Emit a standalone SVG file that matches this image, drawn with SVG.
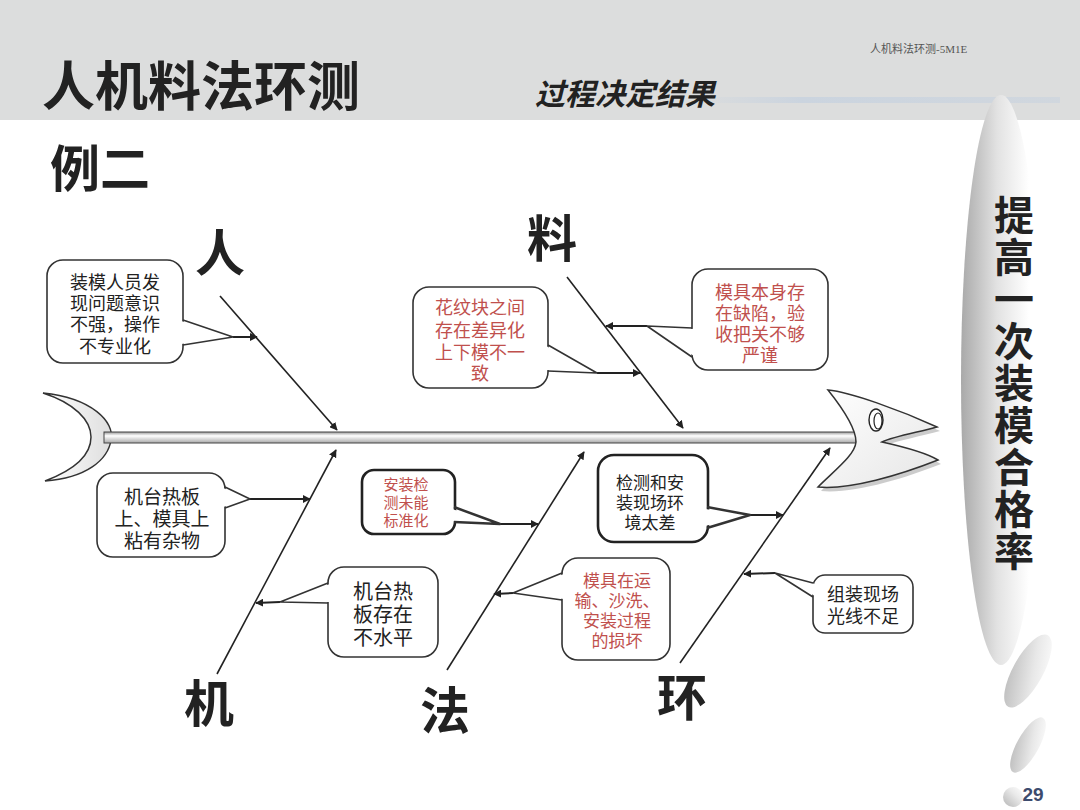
<svg xmlns="http://www.w3.org/2000/svg" width="1080" height="810" viewBox="0 0 1080 810">
<defs>
<style>
.cjk{font-family:"Noto Sans CJK SC","Noto Sans",sans-serif}
.ct{font-family:"Liberation Sans","Noto Sans CJK SC",sans-serif}
.big{font-size:50px;font-weight:bold;fill:#222;text-anchor:middle}
.box{fill:#fff;stroke:#333;stroke-width:1.6}
.boxb{fill:#fff;stroke:#222;stroke-width:2.6}
.wedge{fill:#fff;stroke:none}
.wl{fill:none;stroke:#333;stroke-width:1.6;stroke-linejoin:round}
.bone{stroke:#222;stroke-width:1.6;fill:none}
.arr{stroke:#222;stroke-width:2;fill:none}
.t{font-size:18px;fill:#222;text-anchor:middle}
.r{font-size:18px;fill:#c0504d;text-anchor:middle}
</style>
<marker id="ah" viewBox="0 0 10 10" refX="9" refY="5" markerWidth="8" markerHeight="8" markerUnits="userSpaceOnUse" orient="auto">
<path d="M0,0 L10,5 L0,10 Z" fill="#222"/>
</marker>
<linearGradient id="spineG" x1="0" y1="0" x2="0" y2="1">
<stop offset="0" stop-color="#9a9a9a"/>
<stop offset="0.35" stop-color="#ffffff"/>
<stop offset="1" stop-color="#a8a8a8"/>
</linearGradient>
<linearGradient id="headG" x1="0" y1="0" x2="1" y2="1">
<stop offset="0" stop-color="#ffffff"/>
<stop offset="1" stop-color="#e6e6e6"/>
</linearGradient>
<linearGradient id="tailG" x1="0" y1="0" x2="1" y2="0">
<stop offset="0" stop-color="#ffffff"/>
<stop offset="1" stop-color="#dedede"/>
</linearGradient>
<linearGradient id="ellG" x1="0" y1="0" x2="1" y2="0">
<stop offset="0" stop-color="#a9a9a9"/>
<stop offset="0.45" stop-color="#e2e2e2"/>
<stop offset="0.85" stop-color="#ffffff"/>
</linearGradient>
<linearGradient id="smG" x1="0" y1="1" x2="1" y2="0">
<stop offset="0" stop-color="#b5b5b5"/>
<stop offset="0.6" stop-color="#e8e8e8"/>
<stop offset="1" stop-color="#ffffff"/>
</linearGradient>
<linearGradient id="blueG" x1="0" y1="0" x2="1" y2="0">
<stop offset="0" stop-color="#c9d3df" stop-opacity="0"/>
<stop offset="0.3" stop-color="#c9d3df" stop-opacity="0.9"/>
<stop offset="1" stop-color="#c9d3df" stop-opacity="0.6"/>
</linearGradient>
</defs>

<rect width="1080" height="810" fill="#ffffff"/>
<g id="header">
<rect x="0" y="0" width="1080" height="120" fill="#dcdddd"/>
<rect x="690" y="97" width="370" height="6" fill="url(#blueG)"/>
<text x="42" y="106" class="cjk" font-size="53" font-weight="bold" fill="#222">人机料法环测</text>
<text x="535" y="105" class="cjk" font-size="30" font-weight="bold" font-style="italic" fill="#222">过程决定结果</text>
<text x="870" y="53" font-family="Liberation Serif,Noto Sans CJK SC,serif" font-size="11" fill="#555">人机料法环测-5M1E</text>
</g>
<text x="50" y="187" class="cjk" font-size="50" font-weight="bold" fill="#222">例二</text>

<g id="result">
<ellipse cx="1001" cy="380" rx="40" ry="285" fill="url(#ellG)"/>
<ellipse cx="1028" cy="671" rx="15" ry="41" fill="url(#smG)" transform="rotate(29 1028 671)"/>
<ellipse cx="1028" cy="745" rx="11" ry="31" fill="url(#smG)" transform="rotate(29 1028 745)"/>
<circle cx="1013" cy="797" r="10" fill="url(#smG)"/>
<text x="1033" y="801" font-family="Liberation Sans,Arial,sans-serif" font-size="19" font-weight="bold" fill="#3d4b6e" text-anchor="middle">29</text>
<text x="1014" y="195" class="cjk" writing-mode="vertical-rl" font-size="40" font-weight="bold" fill="#222" letter-spacing="2">提高一次装模合格率</text>
</g>

<g id="fish">
<path d="M43,393 C92,398 115,422 111,440 C108,460 86,478 45,481 C74,470 91,455 91,437 C91,420 74,403 43,393 Z" fill="url(#tailG)" stroke="#333" stroke-width="1.5"/>
<rect x="104" y="432" width="752" height="11" fill="url(#spineG)" stroke="#444" stroke-width="1"/>
<path d="M831,394 C853,396 903,414 940,431 C923,436 898,440 885,446 C903,450 928,456 941,464 C903,479 853,494 821,491 C838,474 858,459 859,446 C859,432 843,409 831,394 Z" fill="#999" opacity="0.5"/>
<path d="M828,390 C850,392 900,410 937,427 C920,432 895,436 882,442 C900,446 925,452 938,460 C900,475 850,490 818,487 C835,470 855,455 856,442 C856,428 840,405 828,390 Z" fill="url(#headG)" stroke="#333" stroke-width="1.5"/>
<ellipse cx="876" cy="420" rx="7" ry="11" fill="#fff" stroke="#222" stroke-width="1.4"/>
<ellipse cx="878" cy="421" rx="4" ry="8" fill="none" stroke="#222" stroke-width="1.2"/>
</g>

<g id="connectors">
<line class="bone" x1="220" y1="296" x2="337" y2="430" marker-end="url(#ah)"/>
<line class="bone" x1="567" y1="277" x2="683" y2="428" marker-end="url(#ah)"/>
<line class="bone" x1="217" y1="674" x2="336" y2="450" marker-end="url(#ah)"/>
<line class="bone" x1="447" y1="670" x2="584" y2="452" marker-end="url(#ah)"/>
<line class="bone" x1="680" y1="663" x2="830" y2="448" marker-end="url(#ah)"/>
<line class="arr" x1="233" y1="337" x2="257" y2="337" marker-end="url(#ah)"/>
<line class="arr" x1="597" y1="373" x2="640" y2="373" marker-end="url(#ah)"/>
<line class="arr" x1="647" y1="326" x2="606" y2="326" marker-end="url(#ah)"/>
<line class="arr" x1="250" y1="499" x2="310" y2="499" marker-end="url(#ah)"/>
<line class="arr" x1="500" y1="524" x2="538" y2="524" marker-end="url(#ah)"/>
<line class="arr" x1="280" y1="602" x2="256" y2="603" marker-end="url(#ah)"/>
<line class="arr" x1="750" y1="515" x2="783" y2="515" marker-end="url(#ah)"/>
<line class="arr" x1="513" y1="593" x2="494" y2="594" marker-end="url(#ah)"/>
<line class="arr" x1="775" y1="573" x2="744" y2="574" marker-end="url(#ah)"/>
</g>

<g id="label-ren"><text x="220" y="271" class="cjk big">人</text></g>
<g id="label-liao"><text x="552" y="257" class="cjk big">料</text></g>
<g id="label-ji"><text x="209" y="722" class="cjk big">机</text></g>
<g id="label-fa"><text x="445" y="729" class="cjk big">法</text></g>
<g id="label-huan"><text x="682" y="716" class="cjk big">环</text></g>

<g id="c1">
<rect class="box" x="47" y="260" width="136" height="103" rx="16"/>
<polygon class="wedge" points="181,321 233,337 181,344"/>
<polyline class="wl" points="183,320 233,337 183,345"/>
<text class="ct t"><tspan x="115" y="289">装模人员发</tspan><tspan x="115" y="310">现问题意识</tspan><tspan x="115" y="331">不强，操作</tspan><tspan x="115" y="353">不专业化</tspan></text>
</g>
<g id="c2">
<rect class="box" x="413" y="287" width="135" height="101" rx="16"/>
<polygon class="wedge" points="546,346 597,373 546,370"/>
<polyline class="wl" points="548,345 597,373 548,371"/>
<text class="ct r"><tspan x="480" y="314">花纹块之间</tspan><tspan x="480" y="337">存在差异化</tspan><tspan x="480" y="359">上下模不一</tspan><tspan x="480" y="380">致</tspan></text>
</g>
<g id="c3">
<rect class="box" x="692" y="269" width="136" height="101" rx="16"/>
<polygon class="wedge" points="694,329 647,326 694,356"/>
<polyline class="wl" points="692,328 647,326 692,357"/>
<text class="ct r"><tspan x="760" y="299">模具本身存</tspan><tspan x="760" y="320">在缺陷，验</tspan><tspan x="760" y="341">收把关不够</tspan><tspan x="760" y="362">严谨</tspan></text>
</g>
<g id="c4">
<rect class="box" x="97" y="473" width="128" height="84" rx="16"/>
<polygon class="wedge" points="223,488 250,499 223,507"/>
<polyline class="wl" points="225,487 250,499 225,508"/>
<text class="ct t" style="font-size:19px"><tspan x="162" y="504">机台热板</tspan><tspan x="162" y="526">上、模具上</tspan><tspan x="162" y="548">粘有杂物</tspan></text>
</g>
<g id="c5">
<rect class="boxb" x="362" y="470" width="93" height="64" rx="12"/>
<polygon class="wedge" points="452,509 500,524 452,521"/>
<polyline class="wl" points="454,507 500,524 454,522" style="stroke-width:2.4"/>
<text class="ct r" style="font-size:15px"><tspan x="406" y="490">安装检</tspan><tspan x="406" y="508">测未能</tspan><tspan x="406" y="526">标准化</tspan></text>
</g>
<g id="c6">
<rect class="box" x="328" y="567" width="110" height="90" rx="16"/>
<polygon class="wedge" points="330,584 280,602 330,602"/>
<polyline class="wl" points="328,583 280,602 328,603"/>
<text class="ct t" style="font-size:20px"><tspan x="383" y="599">机台热</tspan><tspan x="383" y="622">板存在</tspan><tspan x="383" y="645">不水平</tspan></text>
</g>
<g id="c7">
<rect class="boxb" x="598" y="455" width="110" height="87" rx="16"/>
<polygon class="wedge" points="705,509 750,515 705,526"/>
<polyline class="wl" points="707,507 750,515 707,528" style="stroke-width:2.4"/>
<text class="ct t" style="font-size:17px"><tspan x="650" y="489">检测和安</tspan><tspan x="650" y="509">装现场环</tspan><tspan x="650" y="529">境太差</tspan></text>
</g>
<g id="c8">
<rect class="box" x="562" y="558" width="108" height="102" rx="16"/>
<polygon class="wedge" points="564,574 513,593 564,599"/>
<polyline class="wl" points="562,573 513,593 562,600"/>
<text class="ct r" style="font-size:17px"><tspan x="617" y="587">模具在运</tspan><tspan x="617" y="607">输、沙洗、</tspan><tspan x="617" y="627">安装过程</tspan><tspan x="617" y="647">的损坏</tspan></text>
</g>
<g id="c9">
<rect class="box" x="813" y="575" width="100" height="58" rx="12"/>
<polygon class="wedge" points="815,584 775,573 815,596"/>
<polyline class="wl" points="813,583 775,573 813,597"/>
<text class="ct t"><tspan x="863" y="601">组装现场</tspan><tspan x="863" y="623">光线不足</tspan></text>
</g>
</svg>
